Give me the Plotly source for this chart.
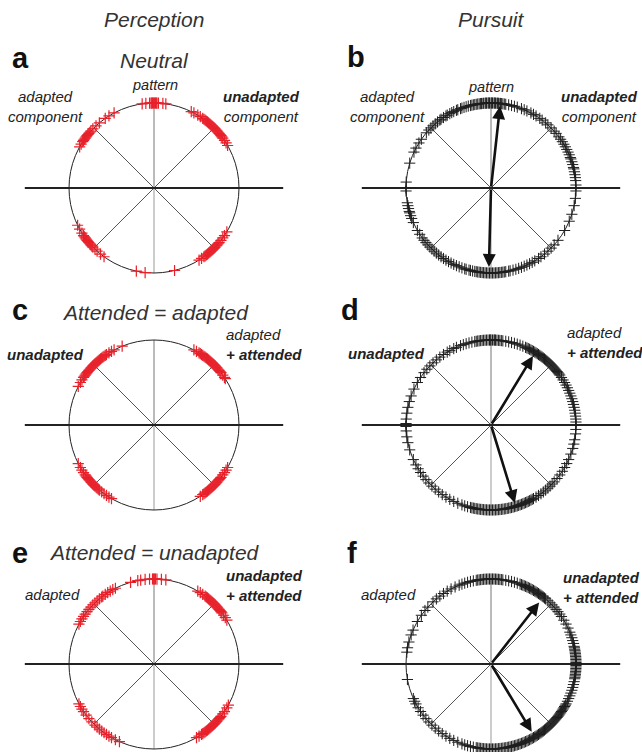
import numpy as np
import plotly.graph_objects as go

# Direções das respostas em graus (0 = direita, 90 = para cima / "pattern")
angulos_a = [82, 84, 87, 88, 88.5, 89, 89.5, 90, 90.5, 91, 91.5, 92, 93, 95.5, 98,
             30, 32, 34, 36, 37, 38, 39, 40, 41, 42, 43, 44, 45, 46, 47, 48, 49, 50,
             51, 52, 53, 54, 55, 57, 59, 62, 64,
             118, 122, 125, 130, 133, 136, 138, 139, 140, 141, 142, 143, 144, 145,
             146, 147, 149, 151,
             206, 209, 212, 214, 215, 216, 217, 218, 219, 220, 221, 222, 223, 224,
             226, 228, 231, 234,
             302, 304, 306, 307, 308, 309, 310, 311, 312, 313, 314, 315, 316, 317,
             318, 319, 320, 322, 324, 326, 329,
             258, 264, 284]

angulos_c = [112, 118, 120, 122, 124, 125, 126, 127, 128, 129, 130, 131, 132, 133,
             134, 135, 136, 137, 138, 139, 140, 141, 142, 143, 144, 145, 146, 148, 150, 153,
             33, 34, 36, 38, 39, 40, 41, 42, 43, 44, 45, 46, 47, 48, 49, 50, 51, 52,
             53, 54, 55, 56, 57, 58, 60, 62,
             207, 210, 212, 214, 216, 217, 218, 219, 220, 221, 222, 223, 224, 225,
             226, 227, 228, 229, 230, 232, 234, 236, 238, 240,
             303, 305, 306, 307, 308, 309, 310, 311, 312, 313, 314, 315, 316, 317,
             318, 319, 320, 321, 322, 324, 326, 328, 330]

angulos_e = [82, 85, 88, 89, 89.5, 90, 90.5, 91, 93, 96, 99, 101, 106,
             117, 119, 121, 123, 125, 127, 128, 130, 132, 134, 136, 138, 140, 142,
             144, 146, 148, 150, 152,
             31, 33, 35, 37, 38, 39, 40, 41, 42, 43, 44, 45, 46, 47, 48, 49, 50, 51,
             52, 53, 55, 57, 59,
             208, 210, 212, 214, 217, 220, 223, 226, 228, 230, 232, 234, 236, 238,
             240, 243, 246,
             300, 302, 304, 305, 306, 307, 308, 309, 310, 311, 312, 313, 314, 315,
             316, 317, 318, 319, 320, 321, 322, 324, 326, 329, 331]

angulos_b = [80, 81, 82, 83, 83.5, 84, 85, 85.5, 86, 87, 87.5, 88, 89, 89.5, 90, 91,
             91.5, 92, 93, 93.5, 94, 95, 96, 96.5, 97, 98, 99, 100, 101, 102, 103, 104, 105.5,
             107, 108.5, 110, 111, 113, 114, 116, 117.5, 119, 121, 122, 124, 126, 127,
             129, 131, 133, 135, 137, 139.5,
             145, 148, 152, 155, 163, 176, 180, 182,
             190, 192, 194, 196, 197, 199, 201, 204,
             210, 213, 216, 218, 220, 222, 224, 226, 228, 230, 232, 234, 236, 238, 240,
             242, 244, 246, 248, 250, 252, 253, 255, 256, 257.5, 259, 260, 261, 262,
             263, 264, 265, 266, 267, 268, 269, 270, 271, 272, 273, 274, 275, 276, 277,
             278, 279, 280, 282, 283, 285,
             287, 289, 291, 293, 295, 297, 299, 301, 304, 306, 309, 312, 315, 318, 322,
             330, 337, 342, 348, 353, 358,
             2, 5, 7, 9, 11, 13, 14, 16, 18, 20, 21, 23, 25, 27, 29, 31, 33, 35, 37,
             40, 42, 45,
             48, 50, 53, 55, 58, 60, 62, 65, 67, 69, 72, 74, 76, 78]

angulos_d = [83, 84, 85, 86, 87, 87.5, 88, 89, 90, 90.5, 91, 92, 93, 94, 95, 96, 97,
             98, 99, 100, 101, 103, 105, 107,
             109, 111, 114, 116, 119, 121, 124, 127, 130, 133, 136, 139, 142, 146, 150,
             155, 160, 164, 168, 172, 176, 179, 181, 184, 188, 192, 197,
             204, 208, 211, 214, 217, 220, 223, 226, 229, 232, 235, 238, 241, 244, 247,
             250, 252, 254, 256, 257, 258, 259, 260, 261, 262, 263, 264, 265, 266, 267,
             268, 269, 270, 271, 272, 273, 274, 275, 276, 277, 278, 279, 280, 281, 282,
             283, 284, 285, 286, 287, 288, 289, 290, 291, 292, 293, 294, 295, 296, 297,
             298, 299, 300, 302, 304, 306, 308, 310, 312, 314, 316, 318, 321, 324, 327,
             330, 333, 336, 340, 344, 347, 350, 354, 357,
             0, 2, 4, 6, 8, 10, 12, 14, 16, 18, 20, 22, 24, 26, 28, 30, 32, 34, 36, 37,
             38, 39, 40, 41, 42, 43, 44, 45, 46, 47, 48, 49, 50, 51, 52, 53, 54, 55, 56,
             57, 58, 59, 60, 61, 62, 63, 64, 65, 66, 68, 70, 72, 74, 76, 78, 80, 82]

angulos_f = [50, 51, 52, 53, 54, 55, 56, 57, 58, 59, 60, 61, 62, 63, 64, 65, 66, 67,
             68, 69, 70, 72, 74, 76, 78, 80, 82, 83, 84, 85, 86, 87, 88, 89, 90, 91, 92,
             93, 94, 95, 96, 97, 98, 99, 100, 102, 104, 106, 108, 110, 112, 115, 118,
             121, 124, 127, 130,
             133, 138, 141, 145, 150, 156.5, 160, 165, 169, 172, 190.5, 204,
             206, 208, 211, 214, 217, 220, 223, 226, 229, 232, 235, 238, 241, 244, 247,
             250, 252, 254, 256, 258, 260, 261, 262, 263, 264, 265, 266, 267, 268, 269,
             270, 271, 272, 273, 274, 275, 276, 277, 278, 279, 280, 281, 282, 283, 284,
             285, 286, 287, 288, 289, 290, 291, 292, 293, 294, 295, 296, 297, 298, 299,
             300, 301, 302, 303, 304, 305, 306, 307, 308, 309, 310, 311, 312, 313, 314,
             315, 316, 317, 318, 319, 320, 321, 322, 323, 324, 325, 326, 327, 328, 329,
             330, 331, 332, 334, 336, 338, 340, 342, 344, 346, 348, 350, 351, 352, 353,
             354, 355, 356, 357, 358, 359,
             0, 1, 2, 3, 4, 5, 6, 7, 8, 9, 10, 11, 12, 14, 16, 18, 20, 22, 25, 28, 31,
             34, 36, 38, 40, 42, 44, 46, 48]

# Vetores médios (ângulo em graus, comprimento relativo ao raio)
setas_b_ang = [83.7, 268.5]
setas_b_len = [0.97, 0.93]
setas_d_ang = [58.7, 287]
setas_d_len = [0.95, 0.96]
setas_f_ang = [52, 301]
setas_f_len = [0.92, 0.93]

W, H = 642, 752
R = 85  # raio do círculo em px
VERM = '#e8202a'
PRETO = '#1e1e1e'
FONTE = 'Arial, Liberation Sans, sans-serif'

paineis = [
    dict(ang=angulos_a, cor=VERM, cx=154, cy=188, setas=None),
    dict(ang=angulos_b, cor=PRETO, cx=491, cy=188, setas=(setas_b_ang, setas_b_len)),
    dict(ang=angulos_c, cor=VERM, cx=154, cy=425, setas=None),
    dict(ang=angulos_d, cor=PRETO, cx=491, cy=425, setas=(setas_d_ang, setas_d_len)),
    dict(ang=angulos_e, cor=VERM, cx=154, cy=664, setas=None),
    dict(ang=angulos_f, cor=PRETO, cx=491, cy=664, setas=(setas_f_ang, setas_f_len)),
]

fig = go.Figure()
shapes = []
anots = []

for i, p in enumerate(paineis):
    n = '' if i == 0 else str(i + 1)
    xa, ya = 'x' + n, 'y' + n
    cx, cy = p['cx'], p['cy']
    x0, x1 = max(cx - 160, 0), min(cx + 160, W)
    y0, y1 = max(cy - 118, 0), min(cy + 118, H)
    fig.layout['xaxis' + n] = dict(domain=[x0 / W, x1 / W], range=[(x0 - cx) / R, (x1 - cx) / R],
                                   visible=False, anchor=ya, fixedrange=True)
    fig.layout['yaxis' + n] = dict(domain=[1 - y1 / H, 1 - y0 / H], range=[(cy - y1) / R, (cy - y0) / R],
                                   visible=False, anchor=xa, fixedrange=True)

    # raios finos a cada 45 graus
    for a, c in [(45, '#555'), (135, '#555'), (225, '#555'), (315, '#555'), (90, '#777'), (270, '#999')]:
        shapes.append(dict(type='line', xref=xa, yref=ya, x0=0, y0=0,
                           x1=np.cos(np.radians(a)), y1=np.sin(np.radians(a)),
                           line=dict(color=c, width=1), layer='below'))
    shapes.append(dict(type='circle', xref=xa, yref=ya, x0=-1, y0=-1, x1=1, y1=1,
                       line=dict(color='#222', width=1), layer='below'))
    shapes.append(dict(type='line', xref=xa, yref=ya, x0=-1.52, y0=0, x1=1.52, y1=0,
                       line=dict(color='#222', width=2), layer='below'))

    rad = np.radians(p['ang'])
    lw = 1.2 if p['cor'] == VERM else 1
    fig.add_trace(go.Scatter(x=np.cos(rad), y=np.sin(rad), xaxis=xa, yaxis=ya, mode='markers',
                             cliponaxis=False, hoverinfo='skip', showlegend=False,
                             marker=dict(symbol='cross-thin', size=8,
                                         line=dict(color=p['cor'], width=lw))))

    if p['setas']:
        for a, L in zip(*p['setas']):
            r = np.radians(a)
            anots.append(dict(xref=xa, yref=ya, axref=xa, ayref=ya,
                              x=L * np.cos(r), y=L * np.sin(r), ax=0, ay=0, text='',
                              showarrow=True, arrowhead=2, arrowsize=1, arrowwidth=2.6,
                              arrowcolor='#111', standoff=0))


def txt(t, x, y, size=15, anchor='center', color='#222', align='center'):
    anots.append(dict(text=t, x=x / W, y=1 - y / H, xref='paper', yref='paper',
                      xanchor=anchor, yanchor='middle', showarrow=False, align=align,
                      font=dict(family=FONTE, size=size, color=color)))


# cabeçalhos das colunas
txt('<i>Perception</i>', 154, 20, 21, color='#333')
txt('<i>Pursuit</i>', 491, 20, 21, color='#333')

# letras dos painéis
for letra, x, y in [('a', 20, 58), ('b', 356, 57), ('c', 20, 310),
                    ('d', 350, 310), ('e', 20, 553), ('f', 352, 553)]:
    txt('<b>' + letra + '</b>', x, y, 29, color='#111')

# títulos das condições
txt('<i>Neutral</i>', 154, 61, 21, color='#333')
txt('<i>Attended = adapted</i>', 155, 312, 21, color='#333')
txt('<i>Attended = unadapted</i>', 154, 552, 21, color='#333')

# rótulos em volta dos círculos
txt('<i>pattern</i>', 155, 85, 14.5)
txt('<i>pattern</i>', 491, 87, 14.5)
txt('<i>adapted<br>component</i>', 46, 107)
txt('<i><b>unadapted</b><br>component</i>', 261, 107)
txt('<i>adapted<br>component</i>', 387, 107)
txt('<i><b>unadapted</b><br>component</i>', 599, 107)

txt('<i><b>unadapted</b></i>', 46, 354)
txt('<i>adapted<br><b>+ attended</b></i>', 224, 345, anchor='left', align='left')
txt('<i><b>unadapted</b></i>', 386, 353)
txt('<i>adapted<br><b>+ attended</b></i>', 565, 343, anchor='left', align='left')

txt('<i>adapted</i>', 52, 594)
txt('<i><b>unadapted<br>+ attended</b></i>', 224, 585, anchor='left', align='left')
txt('<i>adapted</i>', 388, 594)
txt('<i><b>unadapted<br>+ attended</b></i>', 561, 587, anchor='left', align='left')

fig.update_layout(width=W, height=H, margin=dict(l=0, r=0, t=0, b=0),
                  paper_bgcolor='white', plot_bgcolor='white',
                  shapes=shapes, annotations=anots, showlegend=False)

# tirar a margem padrão do <body> para a figura ocupar a janela inteira
fig.write_html("out.html", config={'displayModeBar': False},
               post_script="document.body.style.margin='0';")
